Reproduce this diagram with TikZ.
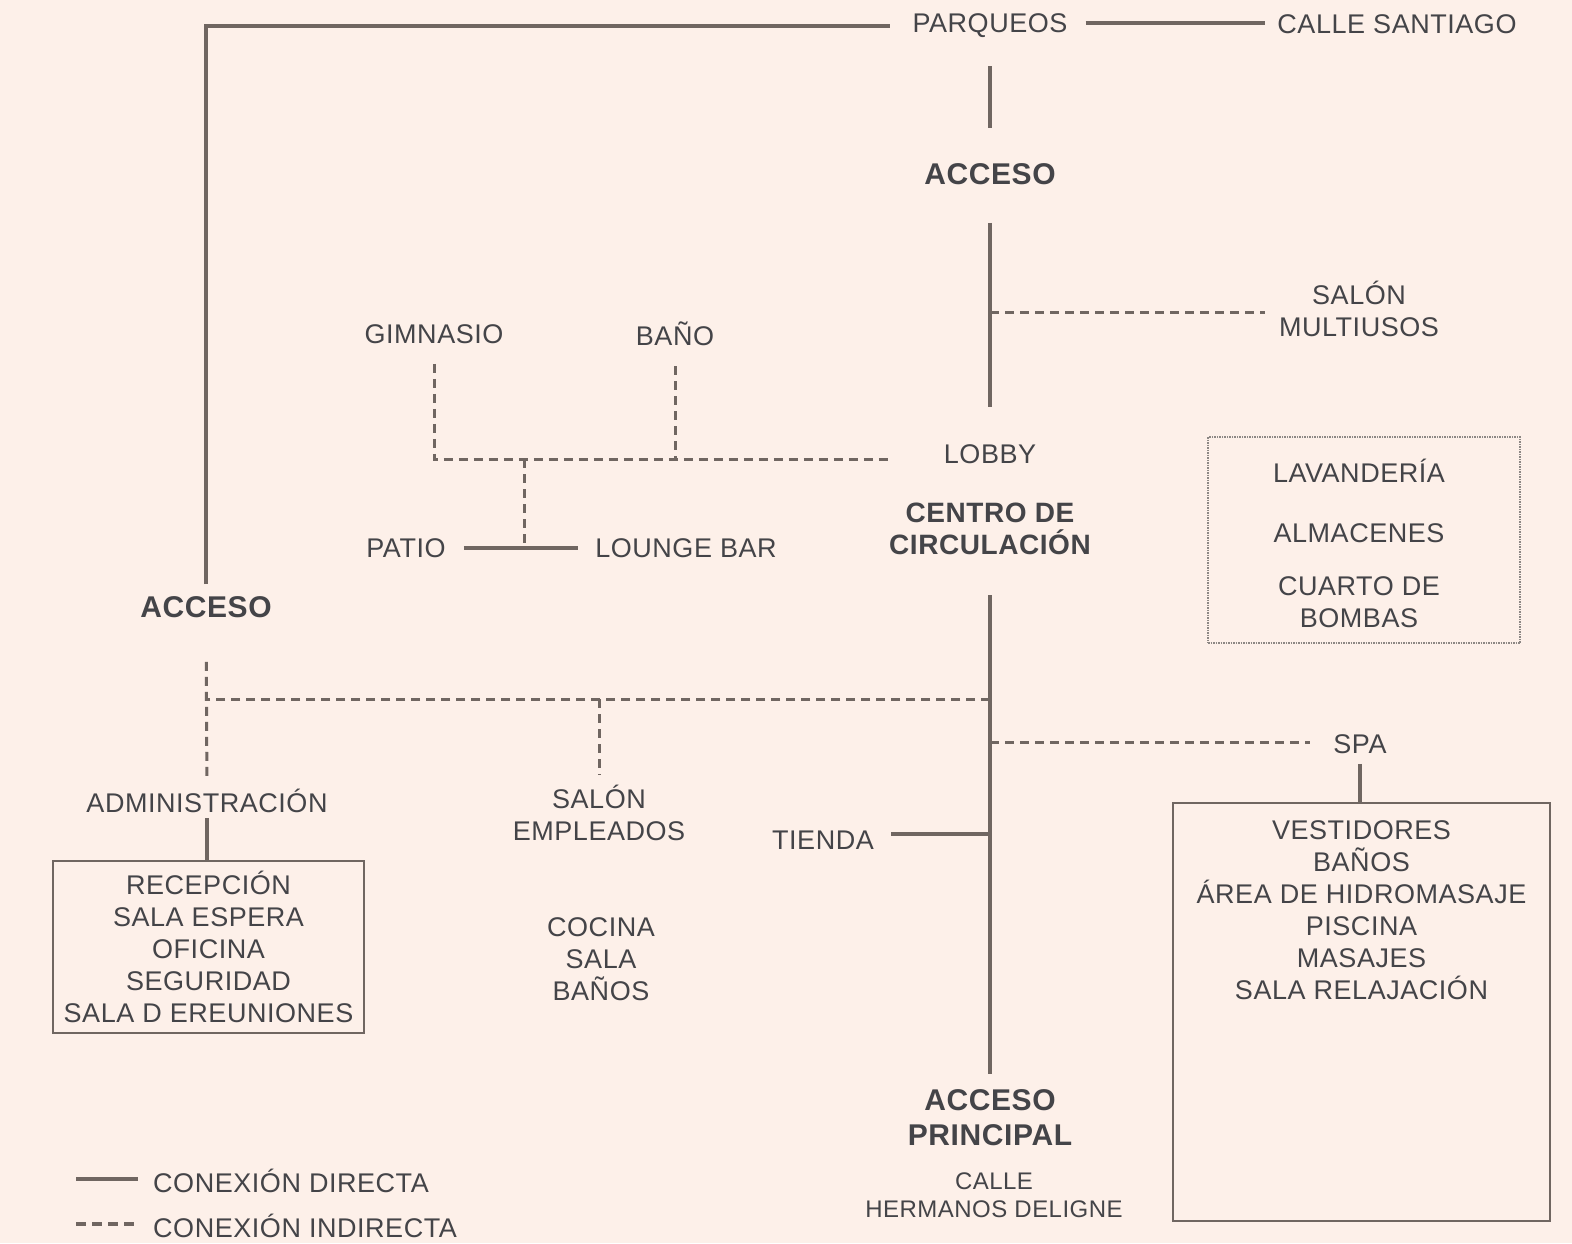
\documentclass[tikz,border=0pt]{standalone}
\usepackage{fontspec}
\setmainfont{Liberation Sans}[LetterSpace=2]
\definecolor{paper}{RGB}{253,240,233}
\definecolor{wire}{RGB}{112,102,97}
\definecolor{ink}{RGB}{68,68,72}
\definecolor{faint}{RGB}{140,135,132}
\tikzset{
  room/.style={inner sep=0pt, text=ink, align=center, font=\fontsize{27}{32}\selectfont},
  hub/.style={room, font=\bfseries\fontsize{30}{35}\selectfont},
  direct/.style={draw=wire, line width=4pt},
  indirect/.style={draw=wire, line width=3pt, dash pattern=on 9pt off 6pt},
  group/.style={draw=wire, line width=2.5pt, inner sep=0pt},
}
\begin{document}
\begin{tikzpicture}[x=1pt, y=-1pt]
    \fill[paper] (0,0) rectangle (1572,1243);
    \useasboundingbox (0,0) rectangle (1572,1243);

    % Spaces (nodes)
    \node[room] (parq) at (990,26) {PARQUEOS};
    \node[room] (santiago) at (1397,24) {CALLE SANTIAGO};
    \node[hub] (accN) at (990,174) {ACCESO};
    \node[room] (multi) at (1359,309) {SALÓN\\MULTIUSOS};
    \node[room] (gym) at (434,334) {GIMNASIO};
    \node[room] (bano) at (675,334) {BAÑO};
    \node[room] (lobby) at (990,454) {LOBBY};
    \node[room] (patio) at (406,548) {PATIO};
    \node[room] (lounge) at (686,548) {LOUNGE BAR};
    \node[hub, font=\bfseries\fontsize{28}{32}\selectfont] (centro) at (990,529) {CENTRO DE\\CIRCULACIÓN};
    \node[hub] (accW) at (206,607) {ACCESO};
    \node[room] (admin) at (207,801) {ADMINISTRACIÓN};
    \node[room] (empleados) at (599,813) {SALÓN\\EMPLEADOS};
    \node[room] (cocina) at (601,959) {COCINA\\SALA\\BAÑOS};
    \node[room] (tienda) at (823,840) {TIENDA};
    \node[room] (spa) at (1360,744) {SPA};
    \node[hub] (accS) at (990,1118) {ACCESO\\PRINCIPAL};
    \node[room, font=\fontsize{24}{28}\selectfont] (calle) at (994,1195) {CALLE\\HERMANOS DELIGNE};

    % Boxed groups
    \node[room, group, minimum width=311pt, minimum height=172pt] (adminbox) at (208.5,947)
        {RECEPCIÓN\\SALA ESPERA\\OFICINA\\SEGURIDAD\\SALA D EREUNIONES};
    \node[group, minimum width=377pt, minimum height=418pt] (spabox) at (1361.5,1012) {};
    \node[room, anchor=north] (spalist) at ([yshift=-19pt]spabox.north)
        {VESTIDORES\\BAÑOS\\ÁREA DE HIDROMASAJE\\PISCINA\\MASAJES\\SALA RELAJACIÓN};
    \node[draw=faint, densely dotted, line width=1.5pt, minimum width=312pt, minimum height=206pt] (store) at (1364,540) {};
    \node[room] (lav) at (1359,471) {LAVANDERÍA};
    \node[room] (almacen) at (1359,533) {ALMACENES};
    \node[room] (bombas) at (1359,602) {CUARTO DE\\BOMBAS};

    % Junctions on the trunks
    \coordinate (jmulti) at (990,312);
    \coordinate (jtienda) at (990,834);
    \coordinate (jspa) at (990,742);
    \coordinate (jadm) at (206,699);
    \coordinate (jgym) at (524,459);
    \coordinate (jpat) at (524,547);
    \coordinate (jpark) at (989,23);

    % Direct connections
    \draw[direct, shorten <=12pt, shorten >=22pt] (accW) |- (parq);
    \draw[direct, shorten <=18pt, shorten >=12pt] (jpark -| parq.east) -- (jpark -| santiago.west);
    \draw[direct, shorten <=28pt, shorten >=35pt] (parq) -- (accN);
    \draw[direct, shorten <=38pt, shorten >=37pt] (accN) -- (lobby);
    \draw[direct, shorten <=18pt, shorten >=17pt] (patio) -- (lounge);
    \draw[direct, shorten <=40pt, shorten >=16pt] (centro) -- (accS);
    \draw[direct, shorten >=17pt] (jtienda) -- (jtienda -| tienda.east);
    \draw[direct, shorten <=5pt] (admin.south) -- (admin.south |- adminbox.north);
    \draw[direct, shorten <=10pt] (spa.south) -- (spa.south |- spabox.north);

    % Indirect connections
    \draw[indirect, shorten >=14pt] (jmulti) -- (jmulti -| multi.west);
    \draw[indirect, shorten <=20pt, shorten >=55pt] (gym.south) |- (lobby.west |- jgym);
    \draw[indirect, shorten <=20pt] (bano.south) -- (bano.south |- jgym);
    \draw[indirect] (jgym) -- (jpat);
    \draw[indirect] (centro |- jadm) -- (jadm);
    \draw[indirect, shorten <=44pt, shorten >=12pt] (accW) -- (admin);
    \draw[indirect, shorten >=10pt] (jadm -| empleados) -- (empleados);
    \draw[indirect, shorten >=23pt] (jspa) -- (jspa -| spa.west);

    % Legend
    \coordinate (keyA) at (76,1179);
    \coordinate (keyB) at (76,1224);
    \node[room, anchor=west] (keyD) at (153,1181) {CONEXIÓN DIRECTA};
    \node[room, anchor=west] (keyI) at (153,1226) {CONEXIÓN INDIRECTA};
    \draw[direct, shorten >=15pt] (keyA) -- (keyA -| keyD.west);
    \draw[indirect, line width=4pt, dash pattern=on 10pt off 6pt, shorten >=15pt] (keyB) -- (keyB -| keyI.west);
\end{tikzpicture}
\end{document}
